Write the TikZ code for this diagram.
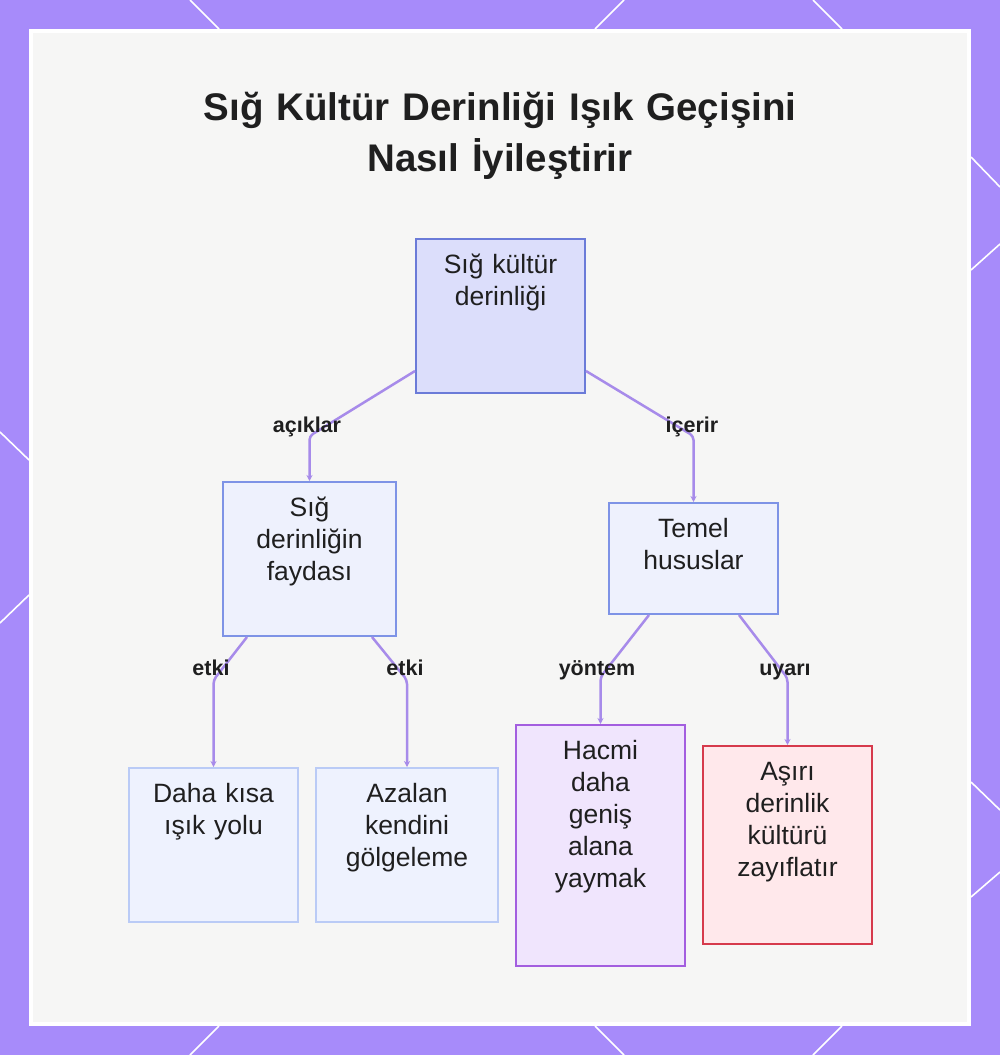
\documentclass[tikz,border=0pt]{standalone}
\usepackage{fontspec}
\setmainfont{Liberation Sans}
\usetikzlibrary{arrows.meta}
\definecolor{framec}{HTML}{A78BFA}
\definecolor{panelc}{HTML}{F6F6F5}
\definecolor{edgec}{HTML}{A78BEA}
\definecolor{txt}{HTML}{1F1F1F}
\definecolor{rootfill}{HTML}{DCDEFB}
\definecolor{rootdraw}{HTML}{6B7BD8}
\definecolor{midfill}{HTML}{EEF1FD}
\definecolor{middraw}{HTML}{7E93E6}
\definecolor{leaffill}{HTML}{EEF2FE}
\definecolor{leafdraw}{HTML}{BACBF6}
\definecolor{purpfill}{HTML}{F0E5FD}
\definecolor{purpdraw}{HTML}{A35EDF}
\definecolor{redfill}{HTML}{FFE8EB}
\definecolor{reddraw}{HTML}{D63A4C}
\tikzset{
  boxbase/.style={rectangle, line width=2pt, anchor=north west, inner sep=0pt},
  rootbox/.style={boxbase, fill=rootfill, draw=rootdraw},
  midbox/.style={boxbase, fill=midfill, draw=middraw},
  leafbox/.style={boxbase, fill=leaffill, draw=leafdraw},
  purpbox/.style={boxbase, fill=purpfill, draw=purpdraw},
  redbox/.style={boxbase, fill=redfill, draw=reddraw},
  ntext/.style={text width=175pt, align=center, anchor=base, inner sep=0pt, text=txt,
    font=\fontsize{26.5}{32}\selectfont},
  lbl/.style={anchor=base, inner sep=0pt, text=txt, font=\fontsize{21.5}{24}\bfseries},
  conn/.style={draw=edgec, line width=2.5pt, rounded corners=4pt,
    -{Stealth[length=6pt, width=6pt]}},
  deco/.style={draw=white, line width=1.6pt}
}
\begin{document}
\begin{tikzpicture}[x=1pt, y=-1pt]
\useasboundingbox (0,0) rectangle (1000,1055);
\fill[framec] (0,0) rectangle (1000,1055);
% white decorative lines on the frame
\draw[deco] (190,0) -- (219,29);
\draw[deco] (624,0) -- (595,29);
\draw[deco] (813,0) -- (842,29);
\draw[deco] (219,1026) -- (190,1055);
\draw[deco] (595,1026) -- (624,1055);
\draw[deco] (842,1026) -- (813,1055);
\draw[deco] (0,432) -- (29,460);
\draw[deco] (29,595) -- (0,623);
\draw[deco] (971,157) -- (1000,187);
\draw[deco] (1000,244) -- (971,270);
\draw[deco] (971,782) -- (1000,810);
\draw[deco] (1000,872) -- (971,897);
% panel
\fill[white] (29,29) rectangle (971,1026);
\fill[panelc] (33,33) rectangle (967,1022);
% title
\node[anchor=base, align=center, text width=900pt, inner sep=0pt, text=txt,
  font=\fontsize{38.5}{51}\bfseries] (title) at (500,120)
  {Sığ Kültür Derinliği Işık Geçişini\\Nasıl İyileştirir};
% boxes
\node[rootbox, minimum width=169pt, minimum height=154pt] (root) at (415,238) {};
\node[midbox, minimum width=173pt, minimum height=154pt] (fayda) at (222,481) {};
\node[midbox, minimum width=169pt, minimum height=111pt] (temel) at (608,502) {};
\node[leafbox, minimum width=169pt, minimum height=154pt] (daha) at (128,767) {};
\node[leafbox, minimum width=182pt, minimum height=154pt] (azalan) at (315,767) {};
\node[purpbox, minimum width=169pt, minimum height=241pt] (hacmi) at (515,724) {};
\node[redbox, minimum width=169pt, minimum height=198pt] (asiri) at (702,745) {};
% box texts
\node[ntext] (root-t) at ([yshift=-35pt]root.north) {Sığ kültür\\derinliği};
\node[ntext] (fayda-t) at ([yshift=-35pt]fayda.north) {Sığ\\derinliğin\\faydası};
\node[ntext] (temel-t) at ([yshift=-35pt]temel.north) {Temel\\hususlar};
\node[ntext] (daha-t) at ([yshift=-35pt]daha.north) {Daha kısa\\ışık yolu};
\node[ntext] (azalan-t) at ([yshift=-35pt]azalan.north) {Azalan\\kendini\\gölgeleme};
\node[ntext] (hacmi-t) at ([yshift=-35pt]hacmi.north) {Hacmi\\daha\\geniş\\alana\\yaymak};
\node[ntext] (asiri-t) at ([yshift=-35pt]asiri.north) {Aşırı\\derinlik\\kültürü\\zayıflatır};
% connectors
\draw[conn] ([yshift=23pt]root.south west) -- ([yshift=45pt]fayda.north) -- (fayda.north);
\draw[conn] ([yshift=23pt]root.south east) -- ([yshift=66pt]temel.north) -- (temel.north);
\draw[conn] ([xshift=25pt]fayda.south west) -- ([yshift=87pt]daha.north) -- (daha.north);
\draw[conn] ([xshift=-25pt]fayda.south east) -- ([yshift=87pt]azalan.north) -- (azalan.north);
\draw[conn] ([xshift=41pt]temel.south west) -- ([yshift=47pt]hacmi.north) -- (hacmi.north);
\draw[conn] ([xshift=-40pt]temel.south east) -- ([yshift=67pt]asiri.north) -- (asiri.north);
% connector labels
\node[lbl] (l-aciklar) at (307,432) {açıklar};
\node[lbl] (l-icerir) at (692,432) {içerir};
\node[lbl] (l-etki1) at (211,675) {etki};
\node[lbl] (l-etki2) at (405,675) {etki};
\node[lbl] (l-yontem) at (597,675) {yöntem};
\node[lbl] (l-uyari) at (785,675) {uyarı};
\end{tikzpicture}
\end{document}
